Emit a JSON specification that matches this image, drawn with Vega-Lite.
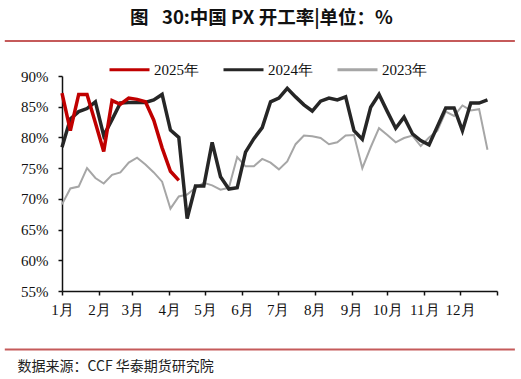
{
  "$schema": "https://vega.github.io/schema/vega-lite/v6.json",
  "width": 435,
  "height": 215,
  "autosize": {"type": "none"},
  "padding": {"left": 62, "top": 76, "right": 24, "bottom": 88},
  "background": "white",
  "config": {
    "view": {"stroke": null},
    "axis": {
      "labelFont": "'Liberation Serif', 'Times New Roman', serif",
      "labelFontSize": 15,
      "labelColor": "#111111",
      "labelOverlap": false,
      "grid": false,
      "tickSize": 4,
      "tickColor": "#111111",
      "tickWidth": 1.5,
      "domainColor": "#111111",
      "domainWidth": 1.5
    },
    "legend": {
      "labelFont": "'Liberation Serif', 'Times New Roman', serif",
      "labelFontSize": 15,
      "labelColor": "#111111"
    }
  },
  "title": {
    "text": "图\u2002 30:中国 PX 开工率|单位：%",
    "font": "Noto Sans CJK SC",
    "fontSize": 18.5,
    "fontWeight": "bold",
    "color": "#111111",
    "anchor": "middle",
    "frame": "group",
    "dx": -18,
    "offset": 12
  },
  "resolve": {"axis": {"x": "independent", "y": "independent"}},
  "datasets": {
    "rates": [
      {"date": "2023-01-01", "series": "2025年", "value": 87.2},
      {"date": "2023-01-08", "series": "2025年", "value": 81.1},
      {"date": "2023-01-15", "series": "2025年", "value": 87.0},
      {"date": "2023-01-22", "series": "2025年", "value": 87.0},
      {"date": "2023-01-29", "series": "2025年", "value": 82.4},
      {"date": "2023-02-05", "series": "2025年", "value": 77.7},
      {"date": "2023-02-12", "series": "2025年", "value": 86.0},
      {"date": "2023-02-19", "series": "2025年", "value": 85.4},
      {"date": "2023-02-26", "series": "2025年", "value": 86.4},
      {"date": "2023-03-05", "series": "2025年", "value": 86.2},
      {"date": "2023-03-12", "series": "2025年", "value": 85.8},
      {"date": "2023-03-19", "series": "2025年", "value": 82.8},
      {"date": "2023-03-26", "series": "2025年", "value": 78.3},
      {"date": "2023-04-02", "series": "2025年", "value": 74.5},
      {"date": "2023-04-09", "series": "2025年", "value": 73.0},

      {"date": "2023-01-01", "series": "2024年", "value": 78.4},
      {"date": "2023-01-08", "series": "2024年", "value": 83.0},
      {"date": "2023-01-15", "series": "2024年", "value": 84.2},
      {"date": "2023-01-22", "series": "2024年", "value": 84.7},
      {"date": "2023-01-29", "series": "2024年", "value": 85.8},
      {"date": "2023-02-05", "series": "2024年", "value": 80.3},
      {"date": "2023-02-12", "series": "2024年", "value": 82.9},
      {"date": "2023-02-19", "series": "2024年", "value": 85.6},
      {"date": "2023-02-26", "series": "2024年", "value": 85.7},
      {"date": "2023-03-05", "series": "2024年", "value": 85.7},
      {"date": "2023-03-12", "series": "2024年", "value": 85.7},
      {"date": "2023-03-19", "series": "2024年", "value": 86.1},
      {"date": "2023-03-26", "series": "2024年", "value": 87.0},
      {"date": "2023-04-02", "series": "2024年", "value": 81.2},
      {"date": "2023-04-09", "series": "2024年", "value": 80.0},
      {"date": "2023-04-16", "series": "2024年", "value": 66.8},
      {"date": "2023-04-23", "series": "2024年", "value": 72.1},
      {"date": "2023-04-30", "series": "2024年", "value": 72.1},
      {"date": "2023-05-07", "series": "2024年", "value": 79.2},
      {"date": "2023-05-14", "series": "2024年", "value": 73.6},
      {"date": "2023-05-21", "series": "2024年", "value": 71.6},
      {"date": "2023-05-28", "series": "2024年", "value": 71.8},
      {"date": "2023-06-04", "series": "2024年", "value": 77.6},
      {"date": "2023-06-11", "series": "2024年", "value": 79.8},
      {"date": "2023-06-18", "series": "2024年", "value": 81.6},
      {"date": "2023-06-25", "series": "2024年", "value": 85.8},
      {"date": "2023-07-02", "series": "2024年", "value": 86.4},
      {"date": "2023-07-09", "series": "2024年", "value": 88.0},
      {"date": "2023-07-16", "series": "2024年", "value": 86.6},
      {"date": "2023-07-23", "series": "2024年", "value": 85.3},
      {"date": "2023-07-30", "series": "2024年", "value": 84.3},
      {"date": "2023-08-06", "series": "2024年", "value": 85.9},
      {"date": "2023-08-13", "series": "2024年", "value": 86.4},
      {"date": "2023-08-20", "series": "2024年", "value": 86.1},
      {"date": "2023-08-27", "series": "2024年", "value": 86.6},
      {"date": "2023-09-03", "series": "2024年", "value": 81.1},
      {"date": "2023-09-10", "series": "2024年", "value": 79.7},
      {"date": "2023-09-17", "series": "2024年", "value": 84.9},
      {"date": "2023-09-24", "series": "2024年", "value": 87.0},
      {"date": "2023-10-01", "series": "2024年", "value": 84.2},
      {"date": "2023-10-08", "series": "2024年", "value": 81.5},
      {"date": "2023-10-15", "series": "2024年", "value": 83.3},
      {"date": "2023-10-22", "series": "2024年", "value": 80.6},
      {"date": "2023-10-29", "series": "2024年", "value": 79.5},
      {"date": "2023-11-05", "series": "2024年", "value": 78.8},
      {"date": "2023-11-12", "series": "2024年", "value": 81.8},
      {"date": "2023-11-19", "series": "2024年", "value": 84.8},
      {"date": "2023-11-26", "series": "2024年", "value": 84.8},
      {"date": "2023-12-03", "series": "2024年", "value": 81.1},
      {"date": "2023-12-10", "series": "2024年", "value": 85.6},
      {"date": "2023-12-17", "series": "2024年", "value": 85.6},
      {"date": "2023-12-24", "series": "2024年", "value": 86.1},

      {"date": "2023-01-01", "series": "2023年", "value": 69.1},
      {"date": "2023-01-08", "series": "2023年", "value": 71.7},
      {"date": "2023-01-15", "series": "2023年", "value": 72.0},
      {"date": "2023-01-22", "series": "2023年", "value": 75.0},
      {"date": "2023-01-29", "series": "2023年", "value": 73.4},
      {"date": "2023-02-05", "series": "2023年", "value": 72.5},
      {"date": "2023-02-12", "series": "2023年", "value": 73.9},
      {"date": "2023-02-19", "series": "2023年", "value": 74.3},
      {"date": "2023-02-26", "series": "2023年", "value": 75.9},
      {"date": "2023-03-05", "series": "2023年", "value": 76.7},
      {"date": "2023-03-12", "series": "2023年", "value": 75.6},
      {"date": "2023-03-19", "series": "2023年", "value": 74.3},
      {"date": "2023-03-26", "series": "2023年", "value": 72.8},
      {"date": "2023-04-02", "series": "2023年", "value": 68.4},
      {"date": "2023-04-09", "series": "2023年", "value": 70.4},
      {"date": "2023-04-16", "series": "2023年", "value": 70.7},
      {"date": "2023-04-23", "series": "2023年", "value": 71.8},
      {"date": "2023-04-30", "series": "2023年", "value": 72.6},
      {"date": "2023-05-07", "series": "2023年", "value": 72.2},
      {"date": "2023-05-14", "series": "2023年", "value": 71.5},
      {"date": "2023-05-21", "series": "2023年", "value": 71.8},
      {"date": "2023-05-28", "series": "2023年", "value": 76.8},
      {"date": "2023-06-04", "series": "2023年", "value": 75.3},
      {"date": "2023-06-11", "series": "2023年", "value": 75.3},
      {"date": "2023-06-18", "series": "2023年", "value": 76.5},
      {"date": "2023-06-25", "series": "2023年", "value": 75.9},
      {"date": "2023-07-02", "series": "2023年", "value": 74.8},
      {"date": "2023-07-09", "series": "2023年", "value": 76.1},
      {"date": "2023-07-16", "series": "2023年", "value": 78.9},
      {"date": "2023-07-23", "series": "2023年", "value": 80.3},
      {"date": "2023-07-30", "series": "2023年", "value": 80.2},
      {"date": "2023-08-06", "series": "2023年", "value": 79.9},
      {"date": "2023-08-13", "series": "2023年", "value": 78.9},
      {"date": "2023-08-20", "series": "2023年", "value": 79.2},
      {"date": "2023-08-27", "series": "2023年", "value": 80.3},
      {"date": "2023-09-03", "series": "2023年", "value": 80.4},
      {"date": "2023-09-10", "series": "2023年", "value": 75.0},
      {"date": "2023-09-17", "series": "2023年", "value": 78.4},
      {"date": "2023-09-24", "series": "2023年", "value": 81.5},
      {"date": "2023-10-01", "series": "2023年", "value": 80.4},
      {"date": "2023-10-08", "series": "2023年", "value": 79.2},
      {"date": "2023-10-15", "series": "2023年", "value": 79.9},
      {"date": "2023-10-22", "series": "2023年", "value": 80.3},
      {"date": "2023-10-29", "series": "2023年", "value": 78.6},
      {"date": "2023-11-05", "series": "2023年", "value": 80.0},
      {"date": "2023-11-12", "series": "2023年", "value": 81.1},
      {"date": "2023-11-19", "series": "2023年", "value": 84.2},
      {"date": "2023-11-26", "series": "2023年", "value": 83.5},
      {"date": "2023-12-03", "series": "2023年", "value": 85.2},
      {"date": "2023-12-10", "series": "2023年", "value": 84.4},
      {"date": "2023-12-17", "series": "2023年", "value": 84.6},
      {"date": "2023-12-24", "series": "2023年", "value": 78.0}
    ]
  },
  "layer": [
    {
      "data": {"name": "rates"},
      "encoding": {
        "x": {
          "field": "date",
          "type": "temporal",
          "scale": {
            "type": "utc",
            "domain": [
              {"year": 2023, "month": 1, "date": 1, "utc": true},
              {"year": 2024, "month": 1, "date": 1, "utc": true}
            ]
          },
          "axis": {
            "values": [
              {"year": 2023, "month": 1, "date": 1, "utc": true},
              {"year": 2023, "month": 2, "date": 1, "utc": true},
              {"year": 2023, "month": 3, "date": 1, "utc": true},
              {"year": 2023, "month": 4, "date": 1, "utc": true},
              {"year": 2023, "month": 5, "date": 1, "utc": true},
              {"year": 2023, "month": 6, "date": 1, "utc": true},
              {"year": 2023, "month": 7, "date": 1, "utc": true},
              {"year": 2023, "month": 8, "date": 1, "utc": true},
              {"year": 2023, "month": 9, "date": 1, "utc": true},
              {"year": 2023, "month": 10, "date": 1, "utc": true},
              {"year": 2023, "month": 11, "date": 1, "utc": true},
              {"year": 2023, "month": 12, "date": 1, "utc": true},
              {"year": 2024, "month": 1, "date": 1, "utc": true}
            ],
            "labelExpr": "utcyear(datum.value) > 2023 ? '' : (utcmonth(datum.value) + 1) + '月'",
            "labelPadding": 7,
            "labelFlush": false,
            "labelOverlap": false,
            "title": "数据来源：CCF  华泰期货研究院",
            "titleFont": "Noto Sans CJK SC",
            "titleFontSize": 14,
            "titleFontWeight": "normal",
            "titleColor": "#222222",
            "titleAnchor": "start",
            "titleAlign": "left",
            "titleBaseline": "middle",
            "titleX": -45,
            "titleY": 75
          }
        },
        "y": {
          "field": "value",
          "type": "quantitative",
          "scale": {"domain": [55, 90], "nice": false, "zero": false},
          "axis": {
            "values": [55, 60, 65, 70, 75, 80, 85, 90],
            "labelExpr": "datum.value + '%'",
            "labelPadding": 10,
            "labelOverlap": false,
            "title": null
          }
        },
        "color": {
          "field": "series",
          "type": "nominal",
          "scale": {
            "domain": ["2025年", "2024年", "2023年"],
            "range": ["#C00000", "#262626", "#A6A6A6"]
          },
          "legend": {
            "title": null,
            "orient": "none",
            "legendX": 46,
            "legendY": -28,
            "direction": "horizontal",
            "symbolType": "stroke",
            "symbolSize": 1600,
            "symbolStrokeWidth": 3,
            "labelOffset": 3,
            "columnPadding": 18
          }
        }
      },
      "layer": [
        {
          "transform": [{"filter": "datum.series === '2023年'"}],
          "mark": {"type": "line", "strokeWidth": 2}
        },
        {
          "transform": [{"filter": "datum.series === '2024年'"}],
          "mark": {"type": "line", "strokeWidth": 3.5}
        },
        {
          "transform": [{"filter": "datum.series === '2025年'"}],
          "mark": {"type": "line", "strokeWidth": 3.5}
        }
      ]
    },
    {
      "data": {"values": [{}]},
      "mark": {"type": "rule", "color": "#C55A5A", "strokeWidth": 2, "clip": false},
      "encoding": {
        "x": {"datum": {"year": 2022, "month": 11, "date": 14, "utc": true}, "type": "temporal", "axis": null},
        "x2": {"datum": {"year": 2024, "month": 1, "date": 16, "utc": true}},
        "y": {"datum": 95.7, "type": "quantitative", "axis": null}
      }
    },
    {
      "data": {"values": [{}]},
      "mark": {"type": "rule", "color": "#C55A5A", "strokeWidth": 2, "clip": false},
      "encoding": {
        "x": {"datum": {"year": 2022, "month": 11, "date": 14, "utc": true}, "type": "temporal", "axis": null},
        "x2": {"datum": {"year": 2024, "month": 1, "date": 16, "utc": true}},
        "y": {"datum": 45.48, "type": "quantitative", "axis": null}
      }
    }
  ]
}
